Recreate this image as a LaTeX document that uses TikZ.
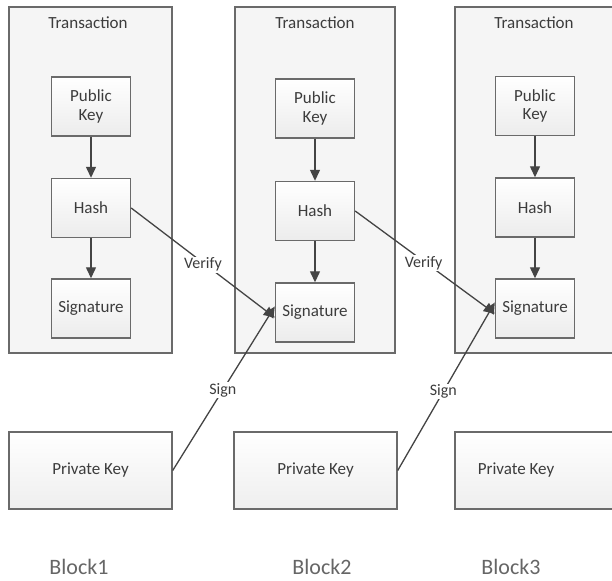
\documentclass[tikz,border=0pt]{standalone}
\usepackage{fontspec}
\setmainfont{Carlito}
\usetikzlibrary{arrows.meta,shadings}
\definecolor{edge}{HTML}{6A6A6A}
\definecolor{txt}{HTML}{3C3C3C}
\definecolor{outerfill}{HTML}{F5F5F5}
\definecolor{line}{HTML}{444444}
\tikzset{
  outerbox/.style={draw=edge, line width=1.4pt, fill=outerfill},
  innerbox/.style={draw=edge, line width=1.4pt, top color=white, bottom color=gray!15,
     minimum width=79pt, minimum height=59pt, inner sep=1pt, align=center,
     text=txt, font=\fontsize{17}{18.5}\selectfont},
  pkbox/.style={draw=edge, line width=1.4pt, top color=white, bottom color=gray!13,
     text=txt, font=\fontsize{17}{18.5}\selectfont},
  titletext/.style={text=txt, font=\fontsize{17}{18.5}\selectfont},
  blocktext/.style={text=gray!80!black, font=\fontsize{22}{24}\selectfont},
  flow/.style={draw=line, line width=1.3pt, -{Triangle[width=10pt,length=11pt]}},
  linklbl/.style={fill=white, inner sep=1pt, text=txt, font=\fontsize{16}{18}\selectfont},
}
\begin{document}
\begin{tikzpicture}[x=1pt,y=-1pt]
\useasboundingbox (0,0) rectangle (612,580);
\clip (0,0) rectangle (612,580);
\fill[white] (0,0) rectangle (612,580);
% outer transaction boxes
\draw[outerbox] (9,7) rectangle (172,353);
\draw[outerbox] (235,7) rectangle (395,353);
\draw[outerbox] (455,7) rectangle (640,353);
\node[titletext] (t1) at (88,23) {Transaction};
\node[titletext] (t2) at (315,23) {Transaction};
\node[titletext] (t3) at (534,23) {Transaction};
% block 1
\node[innerbox] (pk1) at (91,106.5) {Public\\Key};
\node[innerbox] (h1) at (91,208) {Hash};
\node[innerbox] (s1) at (91,308.5) {Signature};
% block 2
\node[innerbox] (pk2) at (315,108.5) {Public\\Key};
\node[innerbox] (h2) at (315,211) {Hash};
\node[innerbox] (s2) at (315,312.5) {Signature};
% block 3
\node[innerbox] (pk3) at (535,106) {Public\\Key};
\node[innerbox] (h3) at (535,207.5) {Hash};
\node[innerbox] (s3) at (535,308.5) {Signature};
% private keys
\node[pkbox, minimum width=163pt, minimum height=77pt] (pr1) at (90.5,470.5) {Private Key};
\node[pkbox, minimum width=163pt, minimum height=77pt] (pr2) at (315.5,470.5) {Private Key};
\node[pkbox, minimum width=170pt, minimum height=77pt] (pr3) at (540,470.5) {};
\node[titletext] (pr3t) at (516,470.5) {Private Key};
% block labels
\node[blocktext] (b1) at (79,567) {Block1};
\node[blocktext] (b2) at (322,567) {Block2};
\node[blocktext] (b3) at (511,567) {Block3};
% internal arrows
\draw[flow] (pk1) -- (h1);
\draw[flow] (h1) -- (s1);
\draw[flow] (pk2) -- (h2);
\draw[flow] (h2) -- (s2);
\draw[flow] (pk3) -- (h3);
\draw[flow] (h3) -- (s3);
% verify / sign links
\draw[flow] (h1.east) -- node[linklbl, pos=0.5, yshift=-2pt] {Verify} ([yshift=-5pt]s2.west);
\draw[flow] (pr1.east) -- node[linklbl, pos=0.49] {Sign} ([yshift=6pt]s2.west);
\draw[flow] (h2.east) -- node[linklbl, pos=0.49, yshift=-2pt] {Verify} ([yshift=-5pt]s3.west);
\draw[flow] (pr2.east) -- node[linklbl, pos=0.47] {Sign} ([yshift=6pt]s3.west);
\end{tikzpicture}
\end{document}
